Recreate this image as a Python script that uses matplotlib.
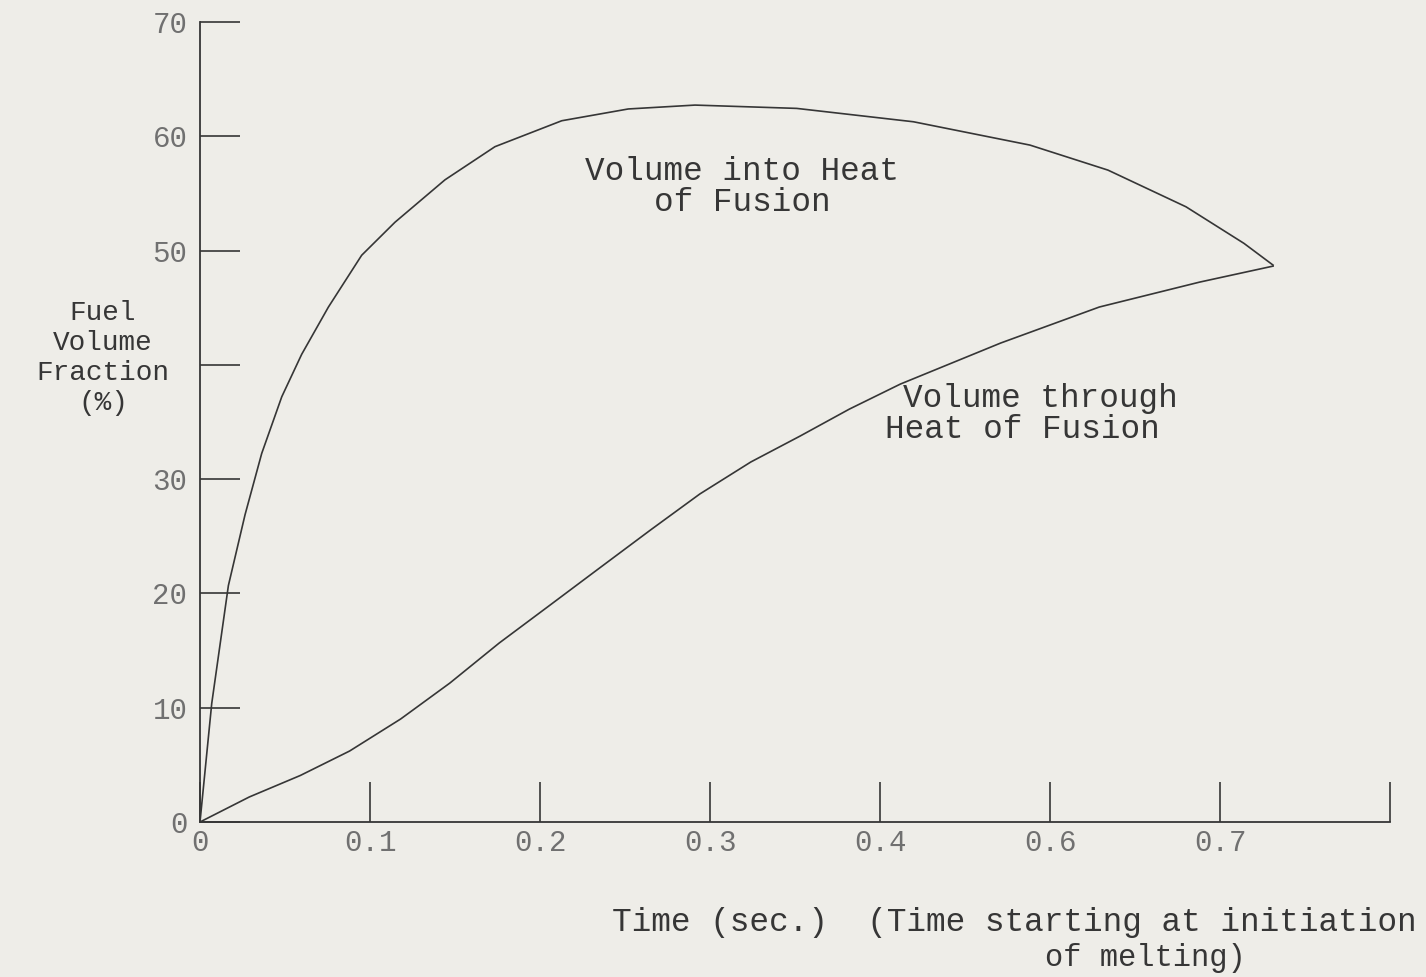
import matplotlib
matplotlib.use("Agg")
import matplotlib.pyplot as plt

# (time axis in tick-position units)
into_time = [0.0, 0.0069, 0.0167, 0.0265, 0.0363, 0.0481, 0.0598, 0.0755, 0.0951,
             0.1147, 0.1441, 0.1735, 0.2128, 0.2519, 0.2912, 0.3510, 0.4197,
             0.4882, 0.5341, 0.5800, 0.6141, 0.6312]
into_vol = [0.0, 10.37, 20.69, 26.89, 32.25, 37.21, 40.92, 45.05, 49.59,
            52.48, 56.19, 59.09, 61.36, 62.39, 62.73, 62.44, 61.27,
            59.23, 57.04, 53.83, 50.63, 48.73]

through_time = [0.0, 0.029, 0.059, 0.088, 0.118, 0.147, 0.176, 0.206, 0.235,
                0.265, 0.294, 0.324, 0.353, 0.382, 0.412, 0.471, 0.529,
                0.588, 0.6312]
through_vol = [0.0, 2.19, 4.07, 6.21, 9.01, 12.16, 15.66, 18.99, 22.22,
               25.55, 28.70, 31.50, 33.77, 36.13, 38.32, 41.91, 45.06,
               47.24, 48.64]

x_ticks = [0.0, 0.1, 0.2, 0.3, 0.4, 0.5, 0.6, 0.7]
x_tick_labels = ["0", "0.1", "0.2", "0.3", "0.4", "0.6", "0.7", ""]
y_ticks = [0, 10, 20, 30, 40, 50, 60, 70]
y_tick_labels = ["0", "10", "20", "30", "", "50", "60", "70"]

paper = "#eeede8"
ink = "#363636"
pencil = "#707070"
mono = "Liberation Mono"

fig = plt.figure(figsize=(14.26, 9.77), dpi=100)
fig.patch.set_facecolor(paper)
ax = fig.add_axes([200 / 1426, 155 / 977, 1190 / 1426, 800 / 977])
ax.set_facecolor(paper)

# --- Curves ---
line_kw = dict(color=ink, lw=1.2, solid_joinstyle="round")
ax.plot(into_time, into_vol, **line_kw)
ax.plot(through_time, through_vol, **line_kw)

# --- Axes ---
ax.set_xlim(0, 0.7)
ax.set_ylim(0, 70)
for side in ("top", "right"):
    ax.spines[side].set_visible(False)
for side in ("left", "bottom"):
    ax.spines[side].set_color(ink)
    ax.spines[side].set_linewidth(1.3)

ax.set_xticks(x_ticks)
ax.set_xticklabels(x_tick_labels)
ax.set_yticks(y_ticks)
ax.set_yticklabels(y_tick_labels)
ax.tick_params(axis="both", direction="in", length=29, width=1.2, color=ink,
               labelcolor=pencil, labelsize=21)
ax.tick_params(axis="y", pad=9)
ax.tick_params(axis="x", pad=5)
for lab in ax.get_xticklabels() + ax.get_yticklabels():
    lab.set_fontfamily(mono)

# --- Curve labels ---
ax.text(0.319, 55.6, "Volume into Heat\nof Fusion", ha="center", va="center",
        multialignment="center", family=mono, fontsize=23.5, color=ink,
        linespacing=1.0)
ax.text(0.4135, 37.1, "Volume through", ha="left", va="center",
        family=mono, fontsize=23.5, color=ink)
ax.text(0.403, 34.3, "Heat of Fusion", ha="left", va="center",
        family=mono, fontsize=23.5, color=ink)

# --- Axis titles ---
fig.text(103 / 1426, 1 - 358 / 977, "Fuel\nVolume\nFraction\n(%)",
         ha="center", va="center", multialignment="center", family=mono,
         fontsize=20, color=ink, linespacing=1.2)
fig.text(612 / 1426, 1 - 922 / 977, "Time (sec.)  (Time starting at initiation",
         ha="left", va="center", family=mono, fontsize=23.6, color=ink)
fig.text(1045 / 1426, 1 - 958 / 977, "of melting)",
         ha="left", va="center", family=mono, fontsize=22, color=ink)

fig.savefig("out.png", dpi=100, facecolor=paper)
